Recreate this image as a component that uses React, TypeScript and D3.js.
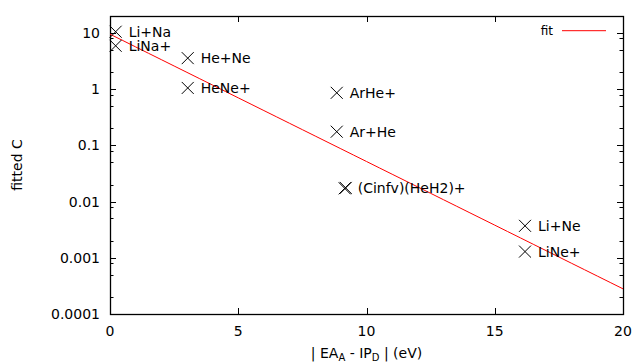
import React, { useEffect, useRef } from 'react';
import * as d3 from 'd3';

// measured points: |EA_A - IP_D| (eV) vs fitted C
const labels = ['Li+Na', 'LiNa+', 'He+Ne', 'HeNe+', 'ArHe+', 'Ar+He', '(Cinfv)(HeH2)+', '', 'Li+Ne', 'LiNe+'];
const xValues = [0.22, 0.22, 3.03, 3.03, 8.84, 8.84, 9.15, 9.19, 16.18, 16.18];
const yValues = [10.5, 5.9, 3.56, 1.05, 0.86, 0.175, 0.0172, 0.0175, 0.0037, 0.00129];

// fit: C = a * exp(-b * x)
const fitA = 9.5;
const fitB = 0.5215;

const xTicks = [0, 5, 10, 15, 20];
const yTicks = [10, 1, 0.1, 0.01, 0.001, 0.0001];
const yTickLabels = ['10', '1', '0.1', '0.01', '0.001', '0.0001'];

const W = 635;
const H = 364;

const App: React.FC = () => {
    const svgRef = useRef<SVGSVGElement>(null);

    useEffect(() => {
        if (!svgRef.current) return;
        const margin = { top: 16, right: 12, bottom: 50, left: 110 };
        const width = W - margin.left - margin.right;
        const height = H - margin.top - margin.bottom;
        const font = 'DejaVu Sans, sans-serif';

        const svg = d3.select(svgRef.current);
        svg.selectAll('*').remove();

        const g = svg.append('g').attr('transform', `translate(${margin.left},${margin.top})`);

        const x = d3.scaleLinear().domain([0, 20]).range([0, width]);
        const y = d3.scaleLog().domain([0.0001, 20]).range([height, 0]);

        // minor ticks at 2, 5, 8 per decade
        const minor: number[] = [];
        for (let e = -4; e <= 1; e++) {
            [2, 5, 8].forEach(m => {
                const v = m * Math.pow(10, e);
                if (v > 0.0001 && v <= 20) minor.push(v);
            });
        }

        const ticks = g.append('g').attr('stroke', '#000').attr('stroke-width', 1);
        xTicks.forEach(t => {
            const px = Math.round(x(t)) + 0.5;
            ticks.append('line').attr('x1', px).attr('x2', px).attr('y1', height).attr('y2', height - 6);
            ticks.append('line').attr('x1', px).attr('x2', px).attr('y1', 0).attr('y2', 6);
        });
        yTicks.forEach(t => {
            const py = Math.round(y(t)) + 0.5;
            ticks.append('line').attr('x1', 0).attr('x2', 6).attr('y1', py).attr('y2', py);
            ticks.append('line').attr('x1', width).attr('x2', width - 6).attr('y1', py).attr('y2', py);
        });
        minor.forEach(t => {
            const py = Math.round(y(t)) + 0.5;
            ticks.append('line').attr('x1', 0).attr('x2', 3.5).attr('y1', py).attr('y2', py);
            ticks.append('line').attr('x1', width).attr('x2', width - 3.5).attr('y1', py).attr('y2', py);
        });

        g.append('rect')
            .attr('x', 0.5).attr('y', 0.5)
            .attr('width', width).attr('height', height)
            .attr('fill', 'none').attr('stroke', '#000').attr('stroke-width', 1.3);

        // tick labels
        g.selectAll('.xl').data(xTicks).enter().append('text')
            .attr('x', d => x(d)).attr('y', height + 22)
            .attr('text-anchor', 'middle')
            .style('font', `14px ${font}`)
            .text(d => String(d));

        g.selectAll('.yl').data(yTicks).enter().append('text')
            .attr('x', -10).attr('y', d => y(d))
            .attr('dy', '0.36em')
            .attr('text-anchor', 'end')
            .style('font', `14px ${font}`)
            .text((_, i) => yTickLabels[i]);

        // fit line
        const fitPts = d3.range(0, 20.01, 0.5).map(v => [v, fitA * Math.exp(-fitB * v)] as [number, number]);
        const line = d3.line<[number, number]>().x(d => x(d[0])).y(d => y(d[1]));
        g.append('path').datum(fitPts)
            .attr('d', line)
            .attr('fill', 'none').attr('stroke', '#ff0000').attr('stroke-width', 1);

        // points
        const r = 6;
        const pts = g.append('g').attr('stroke', '#000').attr('stroke-width', 1);
        xValues.forEach((xv, i) => {
            const px = x(xv);
            const py = y(yValues[i]);
            pts.append('path')
                .attr('d', `M${px - r},${py - r}L${px + r},${py + r}M${px - r},${py + r}L${px + r},${py - r}`);
            if (labels[i]) {
                g.append('text')
                    .attr('x', px + 13).attr('y', py)
                    .attr('dy', '0.36em')
                    .style('font', `14px ${font}`)
                    .text(labels[i]);
            }
        });

        // legend
        const ly = 30.7 - margin.top;
        g.append('text')
            .attr('x', 553 - margin.left).attr('y', ly)
            .attr('dy', '0.36em')
            .attr('text-anchor', 'end')
            .style('font', `12px ${font}`)
            .text('fit');
        g.append('line')
            .attr('x1', 562 - margin.left).attr('x2', 606 - margin.left)
            .attr('y1', ly).attr('y2', ly)
            .attr('stroke', '#ff0000').attr('stroke-width', 1);

        // axis titles
        const xt = svg.append('text')
            .attr('x', margin.left + width / 2).attr('y', 358)
            .attr('text-anchor', 'middle')
            .style('font', `14px ${font}`);
        xt.append('tspan').text('| EA');
        xt.append('tspan').attr('dy', 3).style('font-size', '10px').text('A');
        xt.append('tspan').attr('dy', -3).text(' - IP');
        xt.append('tspan').attr('dy', 3).style('font-size', '10px').text('D');
        xt.append('tspan').attr('dy', -3).text(' | (eV)');

        svg.append('text')
            .attr('transform', `translate(22,${margin.top + height / 2}) rotate(-90)`)
            .attr('text-anchor', 'middle')
            .style('font', `14px ${font}`)
            .text('fitted C');
    }, []);

    return (
        <div style={{ position: 'fixed', left: 0, top: 0 }}>
            <svg ref={svgRef} width={W} height={H} style={{ display: 'block', background: '#fff' }}></svg>
        </div>
    );
};

export default App;
